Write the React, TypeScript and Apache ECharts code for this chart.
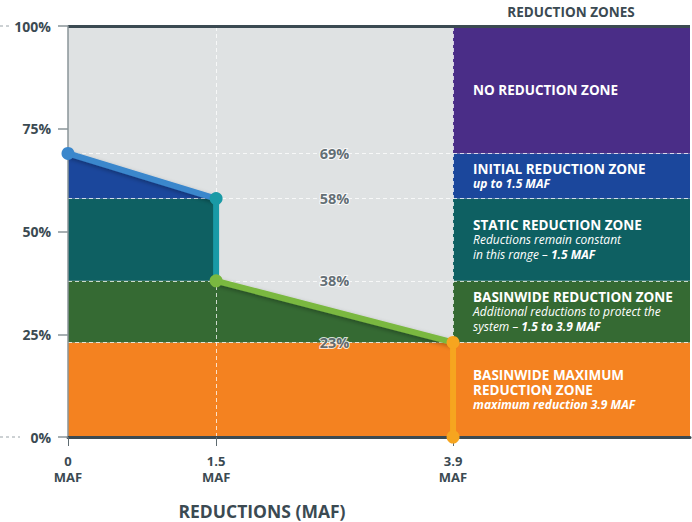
import React, { useEffect, useRef } from "react";
import * as echarts from "echarts";

// ---- data ----
const reductionTicks = [0, 1.5, 3.9]; // MAF tick values
const pathX = [0, 1.5, 1.5, 3.9, 3.9]; // reductions (MAF) along the curve
const pathY = [69, 58, 38, 23, 0]; // percent along the curve
const zoneBreaks = [0, 23, 38, 58, 69, 100];
const percentTicks = [0, 25, 50, 75, 100];
const xMax = 6.3;
const zoneTitles = [
  "BASINWIDE MAXIMUM\nREDUCTION ZONE",
  "BASINWIDE REDUCTION ZONE",
  "STATIC REDUCTION ZONE",
  "INITIAL REDUCTION ZONE",
  "NO REDUCTION ZONE",
];
const zoneNotes = [
  "{nb|maximum reduction 3.9 MAF}",
  "{n|Additional reductions to protect the}\n{n|system – }{nb|1.5 to 3.9 MAF}",
  "{n|Reductions remain constant}\n{n|in this range – }{nb|1.5 MAF}",
  "{nb|up to 1.5 MAF}",
  "",
];

// ---- styles ----
const FONT = "'Open Sans', 'Noto Sans', sans-serif";
const DARK = "#3B4A52";
const zoneColors = ["#F48220", "#356A33", "#0E6062", "#1B479C", "#4A2D87"];
const segmentColors = ["#3A87CC", "#1A9AA6", "#7AB840", "#F6A51F"];
const GRAY_BG = "#DFE2E3";

export default function App() {
  const ref = useRef<HTMLDivElement>(null);
  useEffect(() => {
    document.body.style.margin = "0";
    const chart = echarts.init(ref.current!, null, { renderer: "svg" });

    const fillSeries: any = {
      type: "custom",
      name: "zones",
      z: 1,
      silent: true,
      data: zoneColors.map((_, i) => [0, zoneBreaks[i]]),
      renderItem: (params: any, api: any) => {
        const i = params.dataIndex;
        const lo = zoneBreaks[i];
        const hi = zoneBreaks[i + 1];
        const children: any[] = [];
        let j = -1;
        for (let k = 0; k < pathY.length - 1; k++) {
          if (pathY[k] === hi && pathY[k + 1] === lo) j = k;
        }
        if (j >= 0) {
          const pts = [
            [0, lo],
            [pathX[j + 1], lo],
            [pathX[j], hi],
            [0, hi],
          ].map((p) => api.coord(p));
          children.push({ type: "polygon", shape: { points: pts }, style: { fill: zoneColors[i] } });
        }
        const a = api.coord([reductionTicks[2], hi]);
        const b = api.coord([xMax, lo]);
        children.push({
          type: "rect",
          shape: { x: a[0], y: a[1], width: b[0] - a[0], height: b[1] - a[1] },
          style: { fill: zoneColors[i] },
        });
        return { type: "group", children };
      },
    };

    const bgSeries: any = {
      type: "custom",
      name: "bg",
      z: 0,
      silent: true,
      data: [[0, 0]],
      renderItem: (_p: any, api: any) => {
        const a = api.coord([0, 100]);
        const b = api.coord([reductionTicks[2], 0]);
        return {
          type: "rect",
          shape: { x: a[0], y: a[1], width: b[0] - a[0], height: b[1] - a[1] },
          style: { fill: GRAY_BG },
        };
      },
    };

    const textSeries: any = {
      type: "custom",
      name: "zoneText",
      z: 14,
      silent: true,
      data: zoneTitles.map((_, i) => [reductionTicks[2], zoneBreaks[i]]),
      renderItem: (params: any, api: any) => {
        const i = params.dataIndex;
        const mid = (zoneBreaks[i] + zoneBreaks[i + 1]) / 2;
        const p = api.coord([reductionTicks[2], mid]);
        const title = zoneTitles[i]
          .split("\n")
          .map((l) => `{t|${l}}`)
          .join("\n");
        const text = zoneNotes[i] ? title + "\n" + zoneNotes[i] : title;
        return {
          type: "text",
          x: p[0] + 20,
          y: p[1],
          style: {
            text,
            fill: "#fff",
            align: "left",
            verticalAlign: "middle",
            fontFamily: FONT,
            rich: {
              t: { fill: "#fff", fontFamily: FONT, fontWeight: "bold", fontSize: 13.5, lineHeight: 15 },
              n: { fill: "#fff", fontFamily: FONT, fontStyle: "italic", fontSize: 12, lineHeight: 14.5 },
              nb: {
                fill: "#fff",
                fontFamily: FONT,
                fontStyle: "italic",
                fontWeight: "bold",
                fontSize: 12,
                lineHeight: 14.5,
              },
            },
          },
        };
      },
    };

    const dashed = { color: "rgba(255,255,255,0.75)", type: [4, 3], width: 1 };
    const gridLines: any = {
      type: "line",
      name: "gridLines",
      z: 2,
      silent: true,
      data: [],
      markLine: {
        z: 2,
        silent: true,
        symbol: "none",
        animation: false,
        label: { show: false },
        data: [
          ...zoneBreaks.slice(1, -1).map((v) => ({ yAxis: v, lineStyle: dashed })),
          ...reductionTicks.slice(1).map((v) => ({ xAxis: v, lineStyle: dashed })),
          { yAxis: 100, lineStyle: { color: DARK, type: "solid", width: 3 } },
        ],
      },
    };

    const curveSeries: any[] = segmentColors.map((c, k) => {
      const sloped = pathX[k] !== pathX[k + 1];
      return {
        type: "line",
        name: "curve" + k,
        z: 10,
        silent: true,
        symbol: "circle",
        lineStyle: sloped
          ? {
              color: c,
              width: 6,
              shadowBlur: 4,
              shadowColor: "rgba(0,0,0,0.3)",
              shadowOffsetX: 1,
              shadowOffsetY: 2,
            }
          : { color: c, width: 6 },
        itemStyle: { color: c, borderWidth: 0, opacity: 1 },
        data: [
          { value: [pathX[k], pathY[k]], symbolSize: 13 },
          { value: [pathX[k + 1], pathY[k + 1]], symbolSize: k === segmentColors.length - 1 ? 13 : 0 },
        ],
      };
    });

    const labelX = (reductionTicks[1] + reductionTicks[2]) / 2;
    const labelSeries: any = {
      type: "scatter",
      name: "pct",
      z: 12,
      silent: true,
      symbolSize: 0,
      data: pathY.slice(0, 4).map((v) => [labelX, v]),
      label: {
        show: true,
        position: "inside",
        formatter: (p: any) => `${p.value[1]}%`,
        color: DARK,
        fontFamily: FONT,
        fontWeight: "bold",
        fontSize: 14.5,
        textBorderColor: "#fff",
        textBorderWidth: 2,
      },
    };

    chart.setOption({
      animation: false,
      grid: { left: 68, right: 2, top: 26, bottom: 85, containLabel: false, outerBoundsMode: "none" },
      xAxis: {
        type: "value",
        min: 0,
        max: xMax,
        z: 10,
        axisLine: { show: true, lineStyle: { color: DARK, width: 3 } },
        axisTick: {
          show: true,
          customValues: reductionTicks,
          length: 9,
          lineStyle: { color: "#5F6B71", width: 1 },
        },
        axisLabel: {
          customValues: reductionTicks,
          formatter: (v: number) => `${v}\nMAF`,
          color: DARK,
          fontFamily: FONT,
          fontWeight: "bold",
          fontSize: 13,
          lineHeight: 16,
          margin: 16,
          showMinLabel: true,
          showMaxLabel: true,
        },
        splitLine: { show: false },
      },
      yAxis: {
        type: "value",
        min: 0,
        max: 100,
        interval: 25,
        z: 10,
        axisLine: { show: true, lineStyle: { color: "#8A9499", width: 1.5 } },
        axisTick: { show: true, length: 10, lineStyle: { color: "#8A9499", width: 1.5 } },
        axisLabel: {
          formatter: (v: number) => (percentTicks.includes(v) ? `${v}%` : ""),
          color: DARK,
          fontFamily: FONT,
          fontWeight: "bold",
          fontSize: 14,
          margin: 17,
        },
        splitLine: { show: false },
      },
      graphic: [
        {
          type: "text",
          x: 571,
          y: 12,
          style: {
            text: "REDUCTION ZONES",
            fill: DARK,
            font: `bold 13.5px ${FONT}`,
            textAlign: "center",
            textVerticalAlign: "middle",
          },
        },
        {
          type: "text",
          x: 262,
          y: 511,
          style: {
            text: "REDUCTIONS (MAF)",
            fill: DARK,
            font: `bold 17.5px ${FONT}`,
            textAlign: "center",
            textVerticalAlign: "middle",
          },
        },
        {
          type: "line",
          shape: { x1: 0, y1: 26, x2: 12, y2: 26 },
          style: { stroke: "#9AA3A8", lineWidth: 1, lineDash: [3, 3] },
        },
        {
          type: "line",
          shape: { x1: 0, y1: 437, x2: 20, y2: 437 },
          style: { stroke: "#9AA3A8", lineWidth: 1, lineDash: [3, 3] },
        },
      ],
      series: [bgSeries, fillSeries, gridLines, ...curveSeries, labelSeries, textSeries],
    });
    return () => chart.dispose();
  }, []);
  return <div ref={ref} style={{ width: 692, height: 522 }} />;
}
